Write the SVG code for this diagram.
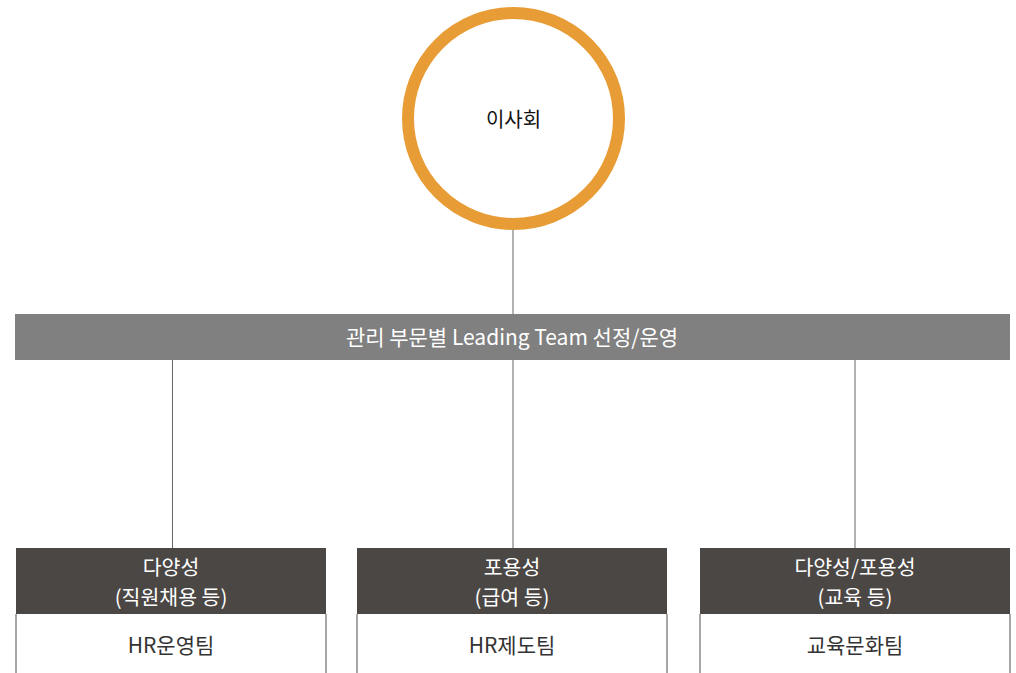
<svg xmlns="http://www.w3.org/2000/svg" width="1016" height="673" viewBox="0 0 1016 673">
<style>
text{font-family:"Noto Sans CJK KR","Noto Sans",sans-serif;text-anchor:middle;}
.hd{fill:#4b4745;}
.hdt{fill:#ffffff;font-size:20.5px;}
.bd{fill:#ffffff;stroke:#8a8a8a;stroke-width:1.5;}
.bdt{fill:#333333;font-size:21px;}
.ln{stroke:#666666;stroke-width:1;fill:none;}
</style>
<rect width="1016" height="673" fill="#ffffff"/>
<g id="connectors">
<line class="ln" x1="513" y1="230" x2="513" y2="314"/>
<line class="ln" x1="172.5" y1="360" x2="172.5" y2="548"/>
<line class="ln" x1="513" y1="360" x2="513" y2="548"/>
<line class="ln" x1="855" y1="360" x2="855" y2="548"/>
</g>
<g id="board">
<circle cx="513.5" cy="118.5" r="105.5" fill="#ffffff" stroke="#e89c35" stroke-width="12"/>
<text x="513.5" y="127" font-size="20" fill="#111111">이사회</text>
</g>
<g id="leading-team">
<rect x="15" y="314" width="995" height="46" fill="#808080"/>
<text x="512" y="344.5" font-size="21" fill="#ffffff">관리 부문별 Leading Team 선정/운영</text>
</g>
<g id="team1">
<path class="bd" d="M16,614 V673 M326,614 V673"/>
<rect class="hd" x="16" y="548" width="310" height="66"/>
<text class="hdt" x="171" y="575">다양성</text>
<text class="hdt" x="171" y="605">(직원채용 등)</text>
<text class="bdt" x="171" y="653">HR운영팀</text>
</g>
<g id="team2">
<path class="bd" d="M357,614 V673 M667,614 V673"/>
<rect class="hd" x="357" y="548" width="310" height="66"/>
<text class="hdt" x="512" y="575">포용성</text>
<text class="hdt" x="512" y="605">(급여 등)</text>
<text class="bdt" x="512" y="653">HR제도팀</text>
</g>
<g id="team3">
<path class="bd" d="M700,614 V673 M1010,614 V673"/>
<rect class="hd" x="700" y="548" width="310" height="66"/>
<text class="hdt" x="855" y="575">다양성/포용성</text>
<text class="hdt" x="855" y="605">(교육 등)</text>
<text class="bdt" x="855" y="653">교육문화팀</text>
</g>
</svg>
